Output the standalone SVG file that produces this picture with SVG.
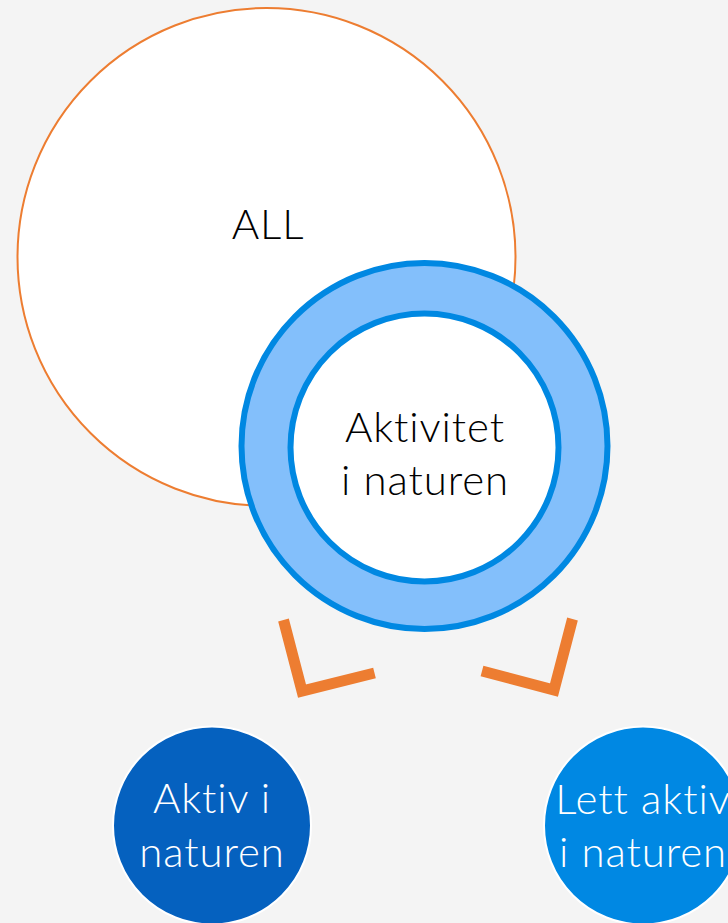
<svg xmlns="http://www.w3.org/2000/svg" width="728" height="923" viewBox="0 0 728 923">
<style>
.lbl{font-family:Lato,"Noto Sans","Liberation Sans",sans-serif;font-weight:300;font-size:42px;letter-spacing:0.9px;text-anchor:middle;font-variant-ligatures:none}
.dark{fill:#000}
.light{fill:#fff}
.conn{fill:none;stroke:#ed7d31;stroke-width:11;stroke-linejoin:miter;stroke-miterlimit:10}
</style>
<rect width="728" height="923" fill="#f4f4f4"/>
<g id="all">
<circle cx="266.5" cy="257" r="249" fill="#fff" stroke="#ed7d31" stroke-width="2"/>
<text class="lbl dark" x="268" y="239">ALL</text>
</g>
<g id="aktivitet">
<circle cx="424.5" cy="446" r="183" fill="#83bffb" stroke="#0088e2" stroke-width="6"/>
<circle cx="424.5" cy="447.5" r="134" fill="#fff" stroke="#0088e2" stroke-width="6"/>
<text class="lbl dark" x="425" y="442">Aktivitet</text>
<text class="lbl dark" x="425" y="495">i naturen</text>
</g>
<g id="connectors">
<path class="conn" d="M283.5,620 L302,691 L374.5,673"/>
<path class="conn" d="M572.5,619 L554,690 L482,671"/>
</g>
<g id="aktiv">
<circle cx="212" cy="825.5" r="99" fill="#0561bf" stroke="#fff" stroke-width="2"/>
<text class="lbl light" x="212" y="813">Aktiv i</text>
<text class="lbl light" x="212" y="867">naturen</text>
</g>
<g id="lett">
<circle cx="643" cy="825.5" r="99" fill="#0088e3" stroke="#fff" stroke-width="2"/>
<text class="lbl light" x="643" y="814">Lett aktiv</text>
<text class="lbl light" x="643" y="867">i naturen</text>
</g>
</svg>
